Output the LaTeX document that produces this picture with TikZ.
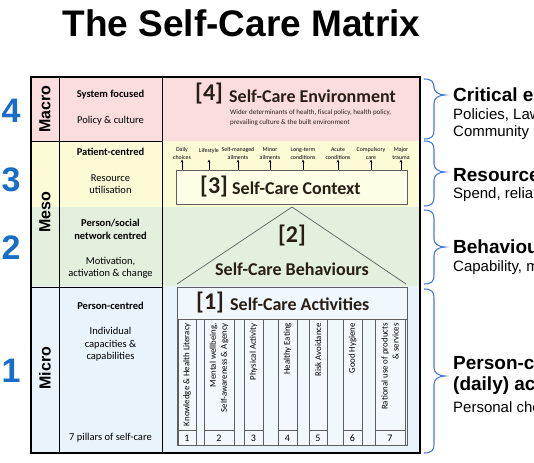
\documentclass[tikz,border=0pt]{standalone}
\usepackage{fontspec}
\setmainfont{Carlito}
\newfontfamily\arialf{Liberation Sans}
\usetikzlibrary{arrows.meta}
\definecolor{pinkbg}{RGB}{251,221,221}
\definecolor{yellowbg}{RGB}{253,251,214}
\definecolor{greenbg}{RGB}{227,240,222}
\definecolor{bluebg}{RGB}{233,243,252}
\definecolor{numblue}{RGB}{24,110,198}
\definecolor{braceblue}{RGB}{72,122,214}
\definecolor{darktxt}{RGB}{40,30,20}
\definecolor{boxgray}{RGB}{95,95,95}
\newcommand{\fs}[1]{\fontsize{#1}{#1}\selectfont}
\newcommand{\fsl}[2]{\fontsize{#1}{#2}\selectfont}
\newcommand{\mybrace}[4]{% x, top, tip, bottom
  \draw[bracestyle] (#1,#2) .. controls (#1+8,#2) and (#1+10,#2+3) .. (#1+10,#2+9)
    -- (#1+10,#3-8) .. controls (#1+10,#3-3) and (#1+15,#3) .. (#1+21,#3)
    .. controls (#1+15,#3) and (#1+10,#3+3) .. (#1+10,#3+8)
    -- (#1+10,#4-9) .. controls (#1+10,#4-3) and (#1+8,#4) .. (#1,#4);}
\begin{document}
\begin{tikzpicture}[x=1pt,y=-1pt,
  bracestyle/.style={draw=braceblue,line width=1.1pt},
  bignum/.style={font=\arialf\bfseries\fs{34}, text=numblue, inner sep=0},
  level/.style={font=\arialf\bfseries\fs{16}, rotate=90, inner sep=0},
  coltxt/.style={font=\fsl{10.5}{12.5}, align=center, inner sep=0},
  coltxtb/.style={font=\bfseries\fsl{10.5}{13}, align=center, inner sep=0},
  heading/.style={font=\bfseries\fs{18}, text=darktxt, inner sep=0},
  bracket/.style={font=\bfseries\fs{24}, text=darktxt, inner sep=0},
  ctxlbl/.style={font=\fsl{5.9}{8}, align=center, inner sep=0},
  pillar/.style={draw=boxgray, fill=bluebg!60!white, line width=0.6pt},
  pilltxt/.style={font=\fsl{8.8}{11}, rotate=90, anchor=east, align=right, inner sep=0},
  pillnum/.style={font=\fs{10}, inner sep=0},
  rhead/.style={font=\arialf\bfseries\fs{19}, anchor=west, inner sep=0},
  rtxt/.style={font=\arialf\fs{15}, anchor=west, inner sep=0},
  upar/.style={-{Stealth[length=3pt,width=2.8pt]}, line width=0.8pt}]
\useasboundingbox (0,0) rectangle (534,462);

% title
\node[font=\arialf\bfseries\fs{37}, inner sep=0] (title) at (241.5,23) {The Self-Care Matrix};

% background bands
\fill[pinkbg] (31,77) rectangle (420,141);
\fill[yellowbg] (31,141) rectangle (420,207);
\fill[greenbg] (31,207) rectangle (420,286);
\fill[bluebg] (31,286) rectangle (420,453);

% grid lines
\draw[line width=0.8pt] (59,77) -- (59,453);
\draw[line width=0.8pt] (162,77) -- (162,453);
\draw[line width=0.8pt] (31,141.5) -- (162,141.5);
\draw[line width=0.8pt] (31,287) -- (162,287);
\draw[line width=1.1pt] (31,77) rectangle (420,453);

% big numbers
\node[bignum] (n4) at (11,111) {4};
\node[bignum] (n3) at (11,180) {3};
\node[bignum] (n2) at (11,248) {2};
\node[bignum] (n1) at (11,371) {1};

% level labels
\node[level] (macro) at (45,109) {Macro};
\node[level] (meso) at (45,212) {Meso};
\node[level] (micro) at (45,368) {Micro};

% column 2 texts
\node[coltxtb] (c4a) at (110.5,95) {System focused};
\node[coltxt] (c4b) at (110.5,121) {Policy \& culture};
\node[coltxtb] (c3a) at (110.5,152) {Patient-centred};
\node[coltxt] (c3b) at (110.5,184) {Resource\\utilisation};
\node[coltxtb] (c2a) at (110.5,229.5) {Person/social\\network centred};
\node[coltxt] (c2b) at (110.5,268) {Motivation,\\activation \& change};
\node[coltxtb] (c1a) at (110.5,306) {Person-centred};
\node[coltxt] (c1b) at (110.5,344.5) {Individual\\capacities \&\\capabilities};
\node[coltxt] (c1c) at (110.5,438) {7 pillars of self-care};

% [4] environment
\node[bracket, anchor=west] (b4) at (195,94) {[4]};
\node[heading, anchor=west] (h4) at (229,96) {Self-Care Environment};
\node[font=\fsl{7}{10.5}, align=left, anchor=north west, inner sep=0, text=darktxt] (sub4) at (230,109)
  {Wider determinants of health, fiscal policy, health policy,\\prevailing culture \& the built environment};

% [3] context box
\draw[draw=boxgray, fill=yellowbg!60!white, line width=0.7pt] (176,170) rectangle (407,204);
\coordinate (ctxtop) at (0,170);
\node[bracket, anchor=west] (b3) at (200,187) {[3]};
\node[heading, anchor=west] (h3) at (232,188) {Self-Care Context};

\foreach \x/\txt/\nm in {182/{Daily\\choices}/l1, 238/{Self-managed\\ailments}/l3,
   270/{Minor\\ailments}/l4, 303/{Long-term\\conditions}/l5, 338/{Acute\\conditions}/l6,
   371/{Compulsory\\care}/l7, 401/{Major\\trauma}/l8}{
  \node[ctxlbl, anchor=south] (\nm) at (\x,159.5) {\txt};
  \draw[upar] (ctxtop -| \nm) -- (\nm.south);
}
\node[ctxlbl, anchor=south] (l2) at (209,154) {Lifestyle};
\draw[upar] (ctxtop -| l2) -- ([yshift=-5.5pt]l2.south);

% [2] triangle
\draw[draw=boxgray, line width=0.7pt] (177,284) -- (292,207) -- (406,284);
\coordinate (apex) at (292,207);
\node[bracket] (b2) at (292,236) {[2]};
\node[heading] (h2) at (292,269) {Self-Care Behaviours};

% [1] activities
\draw[draw=boxgray, fill=bluebg!70!white, line width=0.7pt] (177,287) rectangle (407,445);
\draw[draw=boxgray, line width=0.7pt] (177,319) -- (407,319);
\node[bracket, anchor=west] (b1) at (196,303) {[1]};
\node[heading, anchor=west] (h1) at (230,304) {Self-Care Activities};

\foreach \xa/\xb/\txt/\num in {178/196/{Knowledge \& Health Literacy}/1,
    204/234/{Mental wellbeing,\\Self-awareness \& Agency}/2,
    244/263/{Physical Activity}/3,
    278/297/{Healthy Eating}/4,
    309/327/{Risk Avoidance}/5,
    343/362/{Good Hygiene}/6,
    375/405/{Rational use of products\\\& services}/7}{
  \draw[pillar] (\xa,319) rectangle (\xb,445);
  \draw[draw=boxgray, line width=0.6pt] (\xa,430) -- (\xb,430);
  \node[pilltxt] (pt\num) at ({(\xa+\xb)/2},323) {\txt};
  \node[pillnum] (pn\num) at ({(\xa+\xb)/2},438) {\num};
}

% braces
\mybrace{424}{79}{95}{139}
\mybrace{424}{141}{172}{206}
\mybrace{424}{210}{247}{284}
\mybrace{424}{289}{376}{453}

% right side texts (cut off at the right edge as in the reference)
\node[rhead] (r4a) at (453,95) {Critical enablers};
\node[rtxt] (r4b) at (453,115) {Policies, Laws};
\node[rtxt] (r4c) at (453,133) {Community};
\node[rhead] (r3a) at (453,175) {Resources};
\node[rtxt] (r3b) at (453,195) {Spend, reliance};
\node[rhead] (r2a) at (453,247) {Behaviours};
\node[rtxt] (r2b) at (453,268) {Capability, motivation};
\node[rhead] (r1a) at (453,363) {Person-centred};
\node[rhead] (r1b) at (453,386) {(daily) activities};
\node[rtxt] (r1c) at (453,407) {Personal choices};
\end{tikzpicture}
\end{document}
